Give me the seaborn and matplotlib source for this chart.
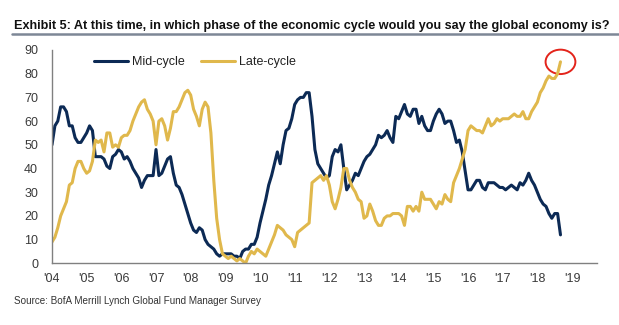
import matplotlib
matplotlib.use("Agg")
import matplotlib.pyplot as plt
from matplotlib.patches import Ellipse
from matplotlib.lines import Line2D
import numpy as np
import pandas as pd
import seaborn as sns

# Monthly survey readings (% of respondents), Jan 2004 - Sep 2018
mid_cycle = [
    50, 58, 60, 66, 66, 64, 58, 58, 53, 51, 51, 53,   # 2004
    55, 58, 56, 45, 45, 45, 44, 41, 40, 45, 46, 48,   # 2005
    47, 44, 45, 43, 40, 38, 36, 32, 35, 37, 37, 37,   # 2006
    48, 37, 38, 41, 44, 45, 38, 33, 32, 29, 25, 21,   # 2007
    17, 14, 13, 15, 14, 10, 8, 7, 6, 4, 3, 4,         # 2008
    4, 4, 4, 3, 3, 2, 5, 6, 6, 8, 8, 11,              # 2009
    17, 22, 27, 33, 37, 42, 47, 42, 50, 56, 57, 61,   # 2010
    67, 69, 70, 70, 72, 72, 62, 48, 42, 40, 38, 36,   # 2011
    37, 45, 48, 47, 50, 40, 31, 33, 35, 38, 37, 40,   # 2012
    43, 45, 46, 48, 50, 54, 53, 54, 56, 53, 51, 62,   # 2013
    61, 64, 67, 63, 62, 65, 65, 59, 62, 58, 56, 56,   # 2014
    60, 63, 65, 63, 59, 60, 60, 56, 51, 52, 47, 39,   # 2015
    31, 31, 33, 35, 35, 32, 31, 34, 34, 34, 33, 32,   # 2016
    32, 31, 32, 33, 32, 31, 34, 33, 35, 38, 35, 33,   # 2017
    30, 27, 25, 24, 21, 19, 21, 21, 12,               # 2018
]
late_cycle = [
    9, 11, 15, 20, 23, 26, 33, 34, 40, 43, 43, 40,    # 2004
    38, 39, 43, 52, 51, 52, 47, 55, 55, 49, 50, 49,   # 2005
    53, 54, 54, 56, 60, 63, 66, 68, 69, 65, 63, 60,   # 2006
    50, 60, 61, 58, 52, 57, 64, 64, 66, 69, 72, 73,   # 2007
    71, 65, 62, 58, 65, 68, 66, 55, 35, 19, 10, 4,    # 2008
    3, 2, 3, 2, 1, 2, 1, 0, 3, 5, 4, 6,               # 2009
    5, 4, 3, 6, 9, 12, 16, 15, 14, 12, 11, 10,        # 2010
    7, 13, 14, 15, 16, 17, 34, 35, 36, 37, 35, 37,    # 2011
    33, 26, 23, 27, 32, 40, 40, 35, 32, 30, 27, 26,   # 2012
    19, 20, 25, 22, 18, 16, 16, 19, 20, 20, 21, 21,   # 2013
    21, 20, 16, 24, 24, 22, 24, 22, 30, 27, 27, 27,   # 2014
    25, 23, 26, 25, 29, 27, 26, 34, 37, 40, 44, 48,   # 2015
    56, 58, 57, 56, 56, 55, 58, 61, 58, 59, 61, 60,   # 2016
    61, 61, 61, 62, 63, 62, 62, 64, 61, 61, 64, 66,   # 2017
    68, 72, 74, 77, 79, 78, 78, 80, 85,               # 2018
]
series_names = ["Mid-cycle", "Late-cycle"]
year_ticks = list(range(2004, 2020))
year_labels = ["'%02d" % (y % 100) for y in year_ticks]
y_ticks = list(range(0, 91, 10))

months = pd.date_range("2004-01-01", periods=len(mid_cycle), freq="MS")
t = months.year + (months.month - 1) / 12.0

df = pd.DataFrame({
    "t": np.concatenate([t, t]),
    "pct": mid_cycle + late_cycle,
    "phase": [series_names[0]] * len(mid_cycle) + [series_names[1]] * len(late_cycle),
})

navy = "#0c2a55"
gold = "#e0b84c"

sns.set_theme(style="white")
plt.rcParams["font.family"] = ["Liberation Sans", "DejaVu Sans"]

fig = plt.figure(figsize=(6.19, 3.25), dpi=100)
ax = fig.add_axes([52 / 619, 1 - 263.3 / 325, 545 / 619, 213.3 / 325])

sns.lineplot(data=df, x="t", y="pct", hue="phase", hue_order=series_names,
             palette=[navy, gold], linewidth=2.2, ax=ax, legend=False)

ax.set_xlim(2004, 2019.72)
ax.set_ylim(0, 90)
ax.set_xticks(year_ticks)
ax.set_xticklabels(year_labels)
ax.set_yticks(y_ticks)
ax.set_xlabel("")
ax.set_ylabel("")
for side in ("top", "right"):
    ax.spines[side].set_visible(False)
for side in ("left", "bottom"):
    ax.spines[side].set_color("#808080")
    ax.spines[side].set_linewidth(1.0)
ax.tick_params(axis="both", direction="out", length=4, width=1, color="#808080",
               labelsize=9, labelcolor="#3a3a3a")
ax.tick_params(axis="y", pad=6)
ax.tick_params(axis="x", pad=3)

handles = [Line2D([], [], color=navy, lw=2.2), Line2D([], [], color=gold, lw=2.2)]
ax.legend(handles, series_names, loc="center left", bbox_to_anchor=(0.077, 0.944),
          ncol=2, frameon=False, fontsize=9, borderaxespad=0, borderpad=0,
          handlelength=2.75, handletextpad=0.3, columnspacing=1.3,
          labelcolor="#222222")

# Highlight the latest late-cycle reading
last_t, last_v = t[-1], late_cycle[-1]
ax.add_patch(Ellipse((last_t, last_v), width=0.86, height=10.3, fill=False,
                     edgecolor="#e3241b", linewidth=1.4, clip_on=False))

fig.text(14 / 619, 1 - 29 / 325,
         "Exhibit 5: At this time, in which phase of the economic cycle would you say the global economy is?",
         fontsize=9.1, fontweight="bold", color="#111111",
         ha="left", va="baseline")
fig.add_artist(Line2D([12 / 619, 1.0], [1 - 34 / 325, 1 - 34 / 325],
                      color="#7d8796", linewidth=1.8, transform=fig.transFigure))
fig.text(14 / 619, 1 - 304 / 325, "Source: BofA Merrill Lynch Global Fund Manager Survey",
         fontsize=7.1, color="#333333", ha="left", va="baseline")

fig.savefig("out.png", dpi=100)
